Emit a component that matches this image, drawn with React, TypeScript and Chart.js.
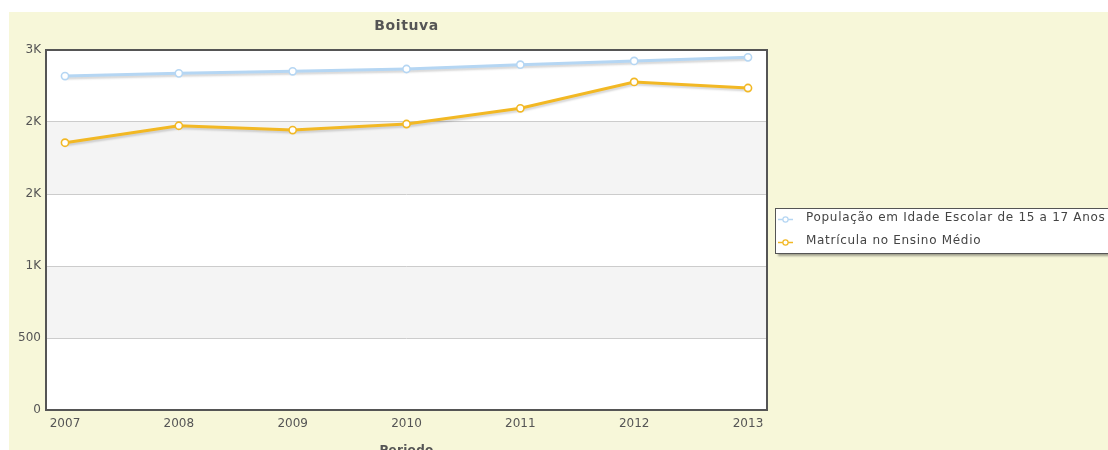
import React, { useEffect, useRef } from "react";
import { Chart, registerables } from "chart.js";

Chart.register(...registerables);

const chartTitle = "Boituva";
const xAxisTitle = "Periodo";
const years = [2007, 2008, 2009, 2010, 2011, 2012, 2013];
const populacao = [2319, 2338, 2352, 2368, 2398, 2424, 2449];
const matricula = [1856, 1974, 1944, 1986, 2095, 2278, 2236];
const seriesNames = [
  "População em Idade Escolar de 15 a 17 Anos",
  "Matrícula no Ensino Médio",
];
const seriesColors = ["#b5d6f3", "#f2b824"];
const yTicks = [0, 500, 1000, 1500, 2000, 2500];

const FONT = "'DejaVu Sans', Verdana, sans-serif";

function formatY(v: number): string {
  return v >= 1000 ? Math.round(v / 1000) + "K" : String(v);
}

const decorPlugin = {
  id: "decor",
  beforeDraw(chart: any) {
    const { ctx, chartArea } = chart;
    const y = chart.scales.y;
    ctx.save();
    for (let i = 0; i < yTicks.length - 1; i++) {
      const yTop = y.getPixelForValue(yTicks[i + 1]);
      const yBot = y.getPixelForValue(yTicks[i]);
      ctx.fillStyle = i % 2 === 1 ? "#f4f4f4" : "#ffffff";
      ctx.fillRect(chartArea.left, yTop, chartArea.right - chartArea.left, yBot - yTop);
    }
    ctx.restore();
  },
  beforeDatasetsDraw(chart: any) {
    const { ctx, chartArea } = chart;
    ctx.save();
    ctx.strokeStyle = "#555555";
    ctx.lineWidth = 2;
    ctx.strokeRect(chartArea.left, chartArea.top, chartArea.right - chartArea.left, chartArea.bottom - chartArea.top);
    const cx = (chartArea.left + chartArea.right) / 2;
    ctx.fillStyle = "#555555";
    ctx.textAlign = "center";
    ctx.textBaseline = "middle";
    ctx.font = `bold 14px ${FONT}`;
    (ctx as any).letterSpacing = "0.6px";
    ctx.fillText(chartTitle, cx, 14.5);
    ctx.font = `bold 12px ${FONT}`;
    (ctx as any).letterSpacing = "0.3px";
    ctx.textBaseline = "alphabetic";
    ctx.fillText(xAxisTitle, cx, 442);
    ctx.restore();
  },
  beforeDatasetDraw(chart: any) {
    const ctx = chart.ctx;
    ctx.save();
    ctx.shadowColor = "rgba(0,0,0,0.16)";
    ctx.shadowBlur = 2;
    ctx.shadowOffsetX = 1;
    ctx.shadowOffsetY = 2;
  },
  afterDatasetDraw(chart: any) {
    chart.ctx.restore();
  },
  afterDatasetsDraw(chart: any) {
    const ctx = chart.ctx;
    ctx.save();
    chart.data.datasets.forEach((ds: any, i: number) => {
      const meta = chart.getDatasetMeta(i);
      meta.data.forEach((pt: any) => {
        ctx.beginPath();
        ctx.arc(pt.x, pt.y, 3.6, 0, Math.PI * 2);
        ctx.fillStyle = "#ffffff";
        ctx.fill();
        ctx.strokeStyle = ds.borderColor;
        ctx.lineWidth = 1.6;
        ctx.stroke();
      });
    });
    ctx.restore();
  },
  afterDraw(chart: any) {
    const ctx = chart.ctx;
    const bx = 766.5;
    const by = 196.5;
    const bw = 400;
    const bh = 45;
    ctx.save();
    ctx.shadowColor = "rgba(0,0,0,0.35)";
    ctx.shadowBlur = 2;
    ctx.shadowOffsetX = 2;
    ctx.shadowOffsetY = 2;
    ctx.fillStyle = "#ffffff";
    ctx.fillRect(bx, by, bw, bh);
    ctx.restore();
    ctx.save();
    ctx.strokeStyle = "#555555";
    ctx.lineWidth = 1;
    ctx.strokeRect(bx, by, bw, bh);
    const itemsY = [207.5, 230.5];
    chart.data.datasets.forEach((ds: any, i: number) => {
      const yy = itemsY[i];
      ctx.strokeStyle = ds.borderColor;
      ctx.lineWidth = 1.5;
      ctx.beginPath();
      ctx.moveTo(769, yy);
      ctx.lineTo(784, yy);
      ctx.stroke();
      ctx.beginPath();
      ctx.arc(776.5, yy, 2.6, 0, Math.PI * 2);
      ctx.fillStyle = "#ffffff";
      ctx.fill();
      ctx.lineWidth = 1.2;
      ctx.stroke();
      ctx.fillStyle = "#444444";
      ctx.font = `12px ${FONT}`;
      (ctx as any).letterSpacing = "0.7px";
      ctx.textAlign = "left";
      ctx.textBaseline = "middle";
      ctx.fillText(ds.label, 797, yy - 1.5);
    });
    ctx.restore();
  },
};

export default function App() {
  const canvasRef = useRef<HTMLCanvasElement | null>(null);

  useEffect(() => {
    const canvas = canvasRef.current;
    if (!canvas) return;
    const datasets = [populacao, matricula].map((vals, i) => ({
      label: seriesNames[i],
      data: years.map((yr, k) => ({ x: yr, y: vals[k] })),
      borderColor: seriesColors[i],
      backgroundColor: "#ffffff",
      borderWidth: 3,
      pointRadius: 0,
      pointHoverRadius: 0,
      tension: 0,
      fill: false,
    }));
    const chart = new Chart(canvas, {
      type: "line",
      data: { datasets },
      plugins: [decorPlugin],
      options: {
        animation: false,
        responsive: false,
        devicePixelRatio: 1,
        layout: { padding: { top: 38, right: 341, bottom: 0, left: 0 } },
        plugins: {
          legend: { display: false },
          title: { display: false },
          tooltip: { enabled: false },
        },
        scales: {
          x: {
            type: "linear",
            min: 2007 - 0.167,
            max: 2013 + 0.167,
            afterFit: (s: any) => {
              s.height = 40;
            },
            afterBuildTicks: (s: any) => {
              s.ticks = years.map((v) => ({ value: v }));
            },
            ticks: {
              stepSize: 1,
              includeBounds: false,
              autoSkip: false,
              maxRotation: 0,
              padding: 7,
              color: "#555555",
              font: { family: FONT, size: 12 },
              callback: (v: any) => String(v),
            },
            grid: { display: false, drawTicks: false },
            border: { display: false },
          },
          y: {
            min: 0,
            max: 2500,
            afterFit: (s: any) => {
              s.width = 37;
            },
            afterBuildTicks: (s: any) => {
              s.ticks = yTicks.map((v) => ({ value: v }));
            },
            ticks: {
              stepSize: 500,
              padding: 5,
              color: "#555555",
              font: { family: FONT, size: 12 },
              callback: (v: any) => formatY(Number(v)),
            },
            grid: {
              drawTicks: false,
              lineWidth: 1,
              color: (c: any) =>
                c.tick && (c.tick.value === 0 || c.tick.value === 2500) ? "rgba(0,0,0,0)" : "#cccccc",
            },
            border: { display: false },
          },
        },
      },
    } as any);
    return () => chart.destroy();
  }, []);

  return (
    <div
      style={{
        position: "absolute",
        left: 9,
        top: 12,
        width: 1099,
        height: 438,
        background: "#f7f7d9",
        overflow: "hidden",
      }}
    >
      <canvas ref={canvasRef} width={1099} height={438} style={{ display: "block", width: 1099, height: 438 }} />
    </div>
  );
}
